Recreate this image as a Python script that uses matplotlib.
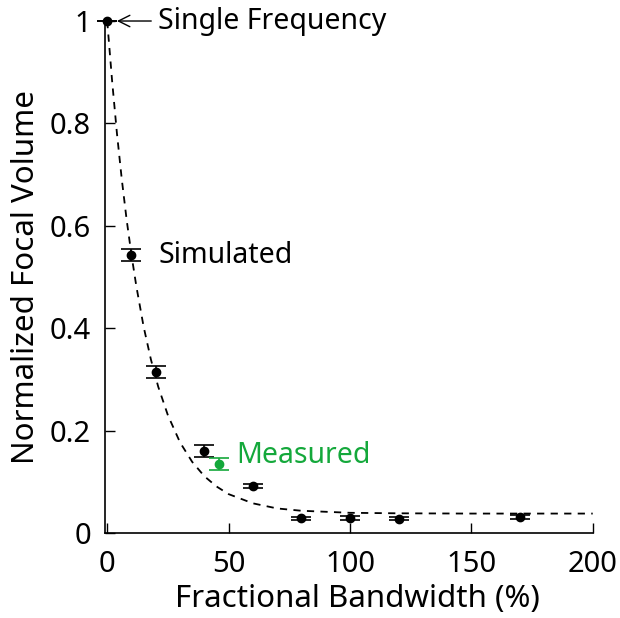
import numpy as np
import matplotlib
matplotlib.use('Agg')
import matplotlib.pyplot as plt

plt.rcParams['font.family'] = ['Noto Sans', 'DejaVu Sans']

# simulated focal volume vs bandwidth
sim_bw = [0, 10, 20, 40, 60, 80, 100, 120, 170]
sim_vol = [1.0, 0.543, 0.315, 0.160, 0.092, 0.029, 0.029, 0.028, 0.031]
sim_err = [0.0, 0.011, 0.012, 0.011, 0.004, 0.003, 0.004, 0.003, 0.004]

# measured point
meas_bw = [46]
meas_vol = [0.135]
meas_err = [0.012]

# fitted (dashed) curve
fit_bw = [0, 2, 4, 6, 8, 10, 12, 15, 18, 21, 25, 30, 35, 40, 45, 50, 60, 70, 80, 100, 120, 150, 200]
fit_vol = [1.0, 0.884, 0.781, 0.691, 0.612, 0.543, 0.482, 0.403, 0.339, 0.286, 0.230, 0.177,
           0.139, 0.111, 0.091, 0.076, 0.058, 0.048, 0.0435, 0.0395, 0.0385, 0.038, 0.038]

green = '#14a83b'
size = 20.5
lsize = 22.5

fig = plt.figure(figsize=(6.2, 6.18), dpi=100)
ax = fig.add_axes([0.169, 0.1375, 0.787, 0.8285])

ax.plot(fit_bw, fit_vol, ls=(0, (4, 3.5)), color='black', lw=1.3, zorder=1)
ax.errorbar(sim_bw, sim_vol, yerr=sim_err, fmt='o', color='black', ms=6,
            capsize=7, elinewidth=1.2, capthick=1.2, zorder=3, clip_on=False)
ax.errorbar(meas_bw, meas_vol, yerr=meas_err, fmt='o', color=green, ms=6,
            capsize=7, elinewidth=1.2, capthick=1.2, zorder=3)

ax.annotate('Single Frequency', xy=(4, 1.0), xytext=(21, 1.0), fontsize=size,
            va='center', ha='left',
            arrowprops=dict(arrowstyle='->', color='black', lw=1.0, shrinkA=3, shrinkB=0))
ax.text(21, 0.543, 'Simulated', fontsize=size, va='center', ha='left')
ax.text(53, 0.152, 'Measured', fontsize=size, va='center', ha='left', color=green)

ax.set_xlim(-1, 200)
ax.set_ylim(0, 1)
ax.set_xticks([0, 50, 100, 150, 200])
ax.set_yticks([0, 0.2, 0.4, 0.6, 0.8, 1])
ax.set_yticklabels(['0', '0.2', '0.4', '0.6', '0.8', '1'])
ax.tick_params('both', direction='in', length=7, width=1, labelsize=21)
ax.tick_params('x', pad=12)
ax.tick_params('y', pad=10)
for s in ['top', 'right']:
    ax.spines[s].set_visible(False)
for s in ['left', 'bottom']:
    ax.spines[s].set_linewidth(1.2)
ax.set_xlabel('Fractional Bandwidth (%)', fontsize=lsize)
ax.xaxis.set_label_coords(0.518, -0.1)
ax.set_ylabel('Normalized Focal Volume', fontsize=lsize, labelpad=6)

plt.savefig('out.png', dpi=100)
plt.close()
